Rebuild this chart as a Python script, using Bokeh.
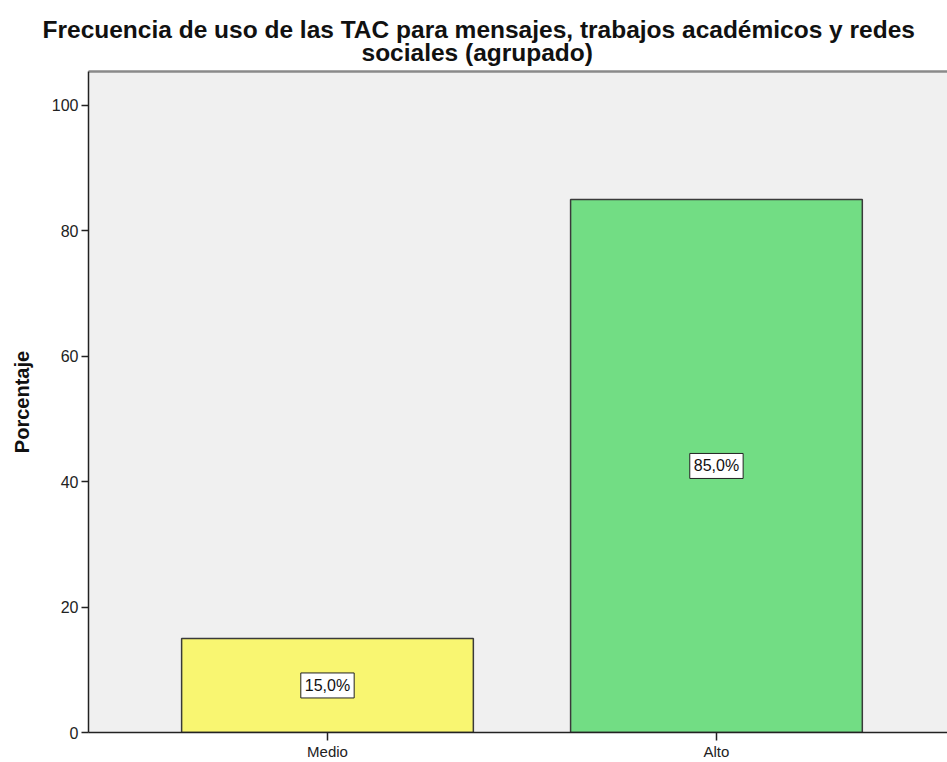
from bokeh.plotting import figure
from bokeh.models import Range1d, FixedTicker, LinearAxis, Label, Title
from bokeh.embed import file_html
from bokeh.resources import INLINE

# ---- data ----
categories = ["Medio", "Alto"]
percentages = [15.0, 85.0]
cat_positions = [1, 2]
y_ticks = [0, 20, 40, 60, 80, 100]
title_lines = ["Frecuencia de uso de las TAC para mensajes, trabajos académicos y redes",
               "sociales (agrupado)"]
bar_colors = ["#F9F671", "#72DD84"]
value_labels = [f"{v:.1f}".replace(".", ",") + "%" for v in percentages]

W, H = 947, 762
FONT = "Liberation Sans"

p = figure(width=W, height=H, output_backend="svg", toolbar_location=None,
           x_range=Range1d(0.3856, 2.594), y_range=Range1d(0, 105.4),
           min_border_left=88, min_border_right=0, min_border_top=71, min_border_bottom=29)

p.background_fill_color = "#F0F0F0"
p.border_fill_color = "white"
p.outline_line_color = None
p.xgrid.visible = False
p.ygrid.visible = False

p.vbar(x=cat_positions, top=percentages, width=0.75, bottom=0,
       fill_color=bar_colors, line_color="#3A3A3A", line_width=1.5)

for xp, v, t in zip(cat_positions, percentages, value_labels):
    p.add_layout(Label(x=xp, y=v / 2, text=t, text_align="center", text_baseline="middle",
                       text_font=FONT, text_font_size="16px", text_color="#111111",
                       background_fill_color="white", border_line_color="#222222",
                       border_line_width=1, padding=4))

# x axis
xa = p.xaxis[0]
xa.ticker = FixedTicker(ticks=cat_positions)
xa.major_label_overrides = {pos: c for pos, c in zip(cat_positions, categories)}
xa.minor_tick_line_color = None
xa.major_tick_in = 0
xa.major_tick_out = 8
xa.major_label_standoff = 2
xa.major_label_text_font = FONT
xa.major_label_text_font_size = "15px"
xa.major_label_text_color = "#222222"
xa.axis_line_color = "#222222"
xa.axis_line_width = 1.5
xa.major_tick_line_color = "#222222"
xa.major_tick_line_width = 1.5

# y axis
ya = p.yaxis[0]
ya.ticker = FixedTicker(ticks=y_ticks)
ya.minor_tick_line_color = None
ya.major_tick_in = 0
ya.major_tick_out = 7
ya.major_label_standoff = 3
ya.major_label_text_font = FONT
ya.major_label_text_font_size = "16px"
ya.major_label_text_color = "#222222"
ya.axis_line_color = "#222222"
ya.axis_line_width = 1.5
ya.major_tick_line_color = "#222222"
ya.major_tick_line_width = 1.5
ya.axis_label = "Porcentaje"
ya.axis_label_text_font = FONT
ya.axis_label_text_font_style = "bold"
ya.axis_label_text_font_size = "20px"
ya.axis_label_text_color = "#111111"
ya.axis_label_standoff = 16

# top border of frame
top = LinearAxis(ticker=FixedTicker(ticks=[]), major_label_text_font_size="0px",
                 major_tick_out=0, major_tick_in=0, minor_tick_out=0, minor_tick_in=0,
                 major_label_standoff=0, axis_line_color="#8A8A8A", axis_line_width=2.5)
p.add_layout(top, "above")

# title: two lines, stacked from the frame outward (line 2 first)
p.add_layout(Title(text=title_lines[1], align="left", offset=273, standoff=11,
                   text_font=FONT, text_font_style="bold", text_font_size="24.5px",
                   text_color="#111111"), "above")
p.add_layout(Title(text=title_lines[0], align="left", offset=-46, standoff=-22,
                   text_font=FONT, text_font_style="bold", text_font_size="24.5px",
                   text_color="#111111"), "above")

open("out.html", "w").write(file_html(p, INLINE))
